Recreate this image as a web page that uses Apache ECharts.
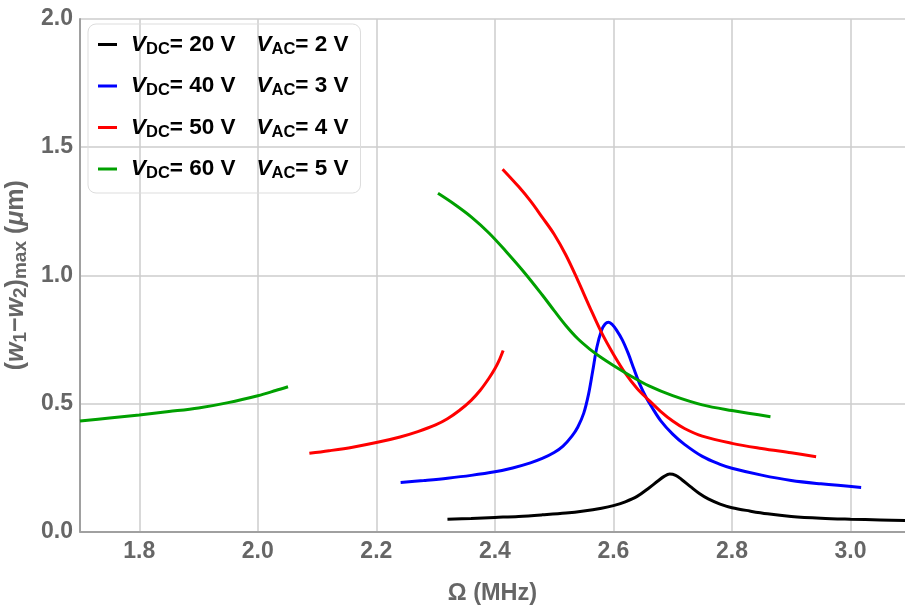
<!DOCTYPE html>
<html>
<head>
<meta charset="utf-8">
<script src="https://cdn.jsdelivr.net/npm/echarts@6/dist/echarts.min.js"></script>
<style>html,body{margin:0;padding:0;background:#fff;}#c{width:905px;height:605px;}</style>
</head>
<body>
<div id="c"></div>
<script>
// ---- data (Ω in MHz, amplitude in μm) ----
var xTicks = [1.8, 2.0, 2.2, 2.4, 2.6, 2.8, 3.0];
var yTicks = [0.0, 0.5, 1.0, 1.5, 2.0];
var vdcValues = [20, 40, 50, 60];
var vacValues = [2, 3, 4, 5];

var vdc20 = [[2.32,0.048],[2.36,0.051],[2.40,0.055],[2.44,0.059],[2.48,0.065],[2.52,0.072],[2.55,0.080],[2.58,0.091],[2.60,0.101],[2.62,0.116],[2.64,0.137],[2.66,0.170],[2.675,0.197],[2.685,0.214],[2.695,0.224],[2.705,0.219],[2.715,0.203],[2.73,0.175],[2.745,0.148],[2.76,0.127],[2.78,0.107],[2.80,0.093],[2.83,0.080],[2.86,0.069],[2.90,0.059],[2.95,0.052],[3.00,0.048],[3.05,0.045],[3.10,0.042]];
var vdc40 = [[2.241,0.191],[2.28,0.199],[2.32,0.208],[2.36,0.219],[2.40,0.233],[2.43,0.248],[2.46,0.268],[2.48,0.285],[2.50,0.308],[2.515,0.333],[2.53,0.372],[2.54,0.408],[2.55,0.462],[2.558,0.535],[2.565,0.625],[2.572,0.718],[2.58,0.785],[2.586,0.810],[2.592,0.817],[2.598,0.808],[2.605,0.787],[2.615,0.748],[2.625,0.695],[2.635,0.632],[2.645,0.572],[2.655,0.524],[2.665,0.485],[2.68,0.432],[2.70,0.380],[2.72,0.340],[2.75,0.293],[2.78,0.262],[2.80,0.247],[2.85,0.220],[2.90,0.199],[2.95,0.186],[3.018,0.172]];
var vdc50Low = [[2.087,0.305],[2.12,0.315],[2.16,0.329],[2.20,0.347],[2.24,0.369],[2.27,0.390],[2.30,0.416],[2.32,0.440],[2.34,0.472],[2.36,0.512],[2.375,0.550],[2.39,0.598],[2.40,0.635],[2.408,0.672],[2.414,0.706]];
var vdc50High = [[2.413,1.414],[2.44,1.346],[2.46,1.290],[2.48,1.226],[2.50,1.160],[2.52,1.078],[2.54,0.980],[2.56,0.876],[2.58,0.776],[2.60,0.692],[2.62,0.618],[2.64,0.558],[2.66,0.512],[2.68,0.468],[2.70,0.431],[2.72,0.402],[2.75,0.372],[2.80,0.344],[2.85,0.324],[2.90,0.307],[2.942,0.292]];
var vdc60Low = [[1.70,0.431],[1.75,0.443],[1.80,0.455],[1.85,0.468],[1.90,0.482],[1.95,0.503],[2.00,0.530],[2.03,0.550],[2.051,0.565]];
var vdc60High = [[2.304,1.320],[2.33,1.280],[2.36,1.228],[2.39,1.165],[2.42,1.090],[2.45,1.010],[2.48,0.923],[2.50,0.862],[2.52,0.803],[2.54,0.752],[2.56,0.712],[2.58,0.678],[2.60,0.648],[2.63,0.606],[2.66,0.568],[2.70,0.530],[2.75,0.494],[2.80,0.472],[2.865,0.448]];

var colors = ['#000000', '#0000ff', '#ff0000', '#00a000'];
var names = vdcValues.map(function (v, i) { return 'VDC= ' + v + ' V  VAC= ' + vacValues[i] + ' V'; });
var seriesData = [[vdc20], [vdc40], [vdc50Low, vdc50High], [vdc60Low, vdc60High]];

var series = [];
seriesData.forEach(function (parts, i) {
  parts.forEach(function (d) {
    series.push({
      name: names[i], type: 'line', data: d, showSymbol: false, symbol: 'none',
      smooth: 0.35, clip: true,
      color: colors[i],
      lineStyle: { color: colors[i], width: 3 }
    });
  });
});

var chart = echarts.init(document.getElementById('c'));
var FF = 'Liberation Sans, Arial, sans-serif';
var tickFont = { color: '#666', fontSize: 23, fontWeight: 'bold', fontFamily: FF };
chart.setOption({
  animation: false,
  backgroundColor: '#fff',
  grid: { left: 80, top: 19, right: 0, bottom: 73.5, containLabel: false, outerBoundsMode: 'none' },
  legend: {
    data: names, orient: 'vertical', left: 88, top: 24,
    padding: [9, 12, 11, 10], itemGap: 17,
    borderColor: '#dddddd', borderWidth: 1, borderRadius: 8,
    icon: 'rect', itemWidth: 19, itemHeight: 3,
    formatter: function (name) {
      var i = names.indexOf(name);
      return '{v0|V}{s|DC}{t|= ' + vdcValues[i] + ' V}{v|V}{s|AC}{t|= ' + vacValues[i] + ' V}';
    },
    textStyle: {
      color: '#000', fontSize: 22, fontWeight: 'bold', fontFamily: FF,
      rich: {
        v0: { fontSize: 22.5, fontWeight: 'bold', fontStyle: 'italic', color: '#000', padding: [0, 0, 0, 9] },
        v: { fontSize: 22.5, fontWeight: 'bold', fontStyle: 'italic', color: '#000', padding: [0, 0, 0, 21] },
        s: { fontSize: 16.5, fontWeight: 'bold', color: '#000', padding: [9, 0, 0, 0] },
        t: { fontSize: 22.5, fontWeight: 'bold', color: '#000' }
      }
    }
  },
  xAxis: {
    type: 'value', min: 1.7, max: 3.092,
    name: 'Ω (MHz)', nameLocation: 'middle', nameGap: 50,
    nameTextStyle: { color: '#666', fontSize: 23.5, fontWeight: 'bold', fontFamily: FF },
    axisLine: { show: true, lineStyle: { color: '#a0a0a0', width: 2 } },
    axisTick: { show: false, customValues: xTicks },
    axisLabel: Object.assign({ customValues: xTicks, margin: 9, formatter: function (v) { return v.toFixed(1); } }, tickFont),
    splitLine: { show: true, lineStyle: { color: '#cccccc', width: 1.5 } }
  },
  yAxis: {
    type: 'value', min: 0, max: 2, interval: 0.5,
    name: '({i|w}{s|1}−{i|w}{s|2}){s|max} ({i|μ}m)', nameLocation: 'middle', nameGap: 40, nameRotate: 90,
    nameTextStyle: {
      color: '#666', fontSize: 25, fontWeight: 'bold', fontFamily: FF,
      rich: {
        i: { fontSize: 25, fontWeight: 'bold', fontStyle: 'italic', color: '#666' },
        s: { fontSize: 19, fontWeight: 'bold', color: '#666', padding: [10, 0, 0, 0] }
      }
    },
    axisLine: { show: true, lineStyle: { color: '#a0a0a0', width: 2 } },
    axisTick: { show: false },
    axisLabel: Object.assign({ margin: 7, formatter: function (v) { return v.toFixed(1); } }, tickFont),
    splitLine: { show: true, lineStyle: { color: '#cccccc', width: 1.5 } }
  },
  series: series
});
</script>
</body>
</html>
